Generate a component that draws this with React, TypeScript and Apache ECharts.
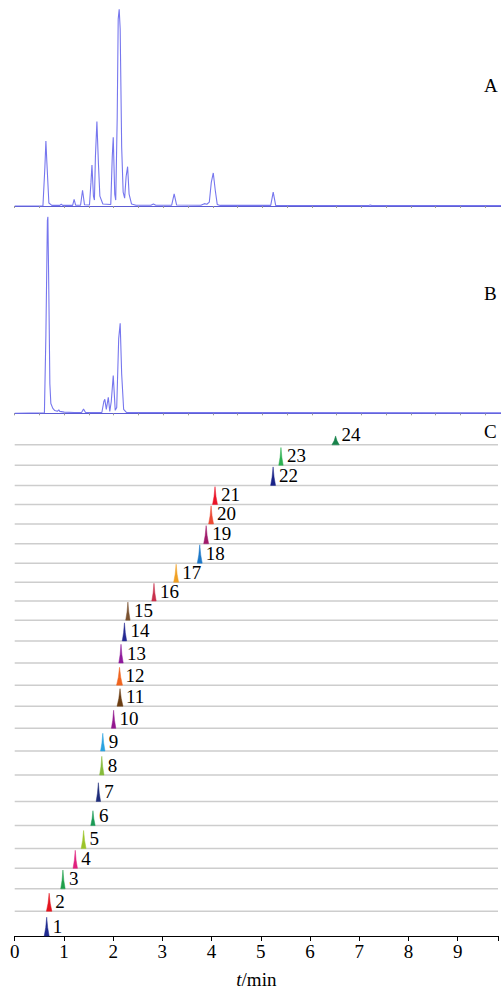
import React, { useEffect, useRef } from "react";
import * as echarts from "echarts";

// ---- Data ----
const X_MAX = 9.82;
const xTickLabels = ["0", "1", "2", "3", "4", "5", "6", "7", "8", "9"];
const panelLabels = ["A", "B", "C"];

// Trace A: [time (min), relative intensity (%)]
const traceA: number[][] = [
  [0, 0], [0.57, 0], [0.61, 20], [0.63, 33], [0.65, 22], [0.69, 1.5], [0.75, 0.3],
  [0.91, 0.3], [0.94, 0.9], [0.97, 0.3],
  [1.17, 0.3], [1.2, 3.4], [1.23, 0.4],
  [1.33, 0.4], [1.37, 8], [1.41, 0.6],
  [1.51, 0.5], [1.54, 12], [1.56, 20.8], [1.59, 5], [1.61, 3], [1.63, 25], [1.66, 43], [1.69, 22], [1.72, 5], [1.78, 1],
  [1.94, 0.8], [1.97, 25], [1.99, 35], [2.02, 6], [2.04, 3], [2.07, 45], [2.09, 95], [2.11, 100], [2.13, 90], [2.16, 30], [2.19, 7], [2.22, 4], [2.25, 15], [2.28, 20], [2.31, 6], [2.36, 1], [2.45, 0.4],
  [2.75, 0.4], [2.8, 1], [2.85, 0.4],
  [3.17, 0.4], [3.22, 6.2], [3.27, 0.5],
  [3.76, 0.4], [3.83, 1.2], [3.88, 0.9], [3.93, 2], [3.97, 12], [4.01, 16.8], [4.05, 8], [4.09, 0.8], [4.15, 0.3],
  [5.17, 0.3], [5.22, 7.1], [5.27, 0.3],
  [7.15, 0.2], [7.18, 0.5], [7.21, 0.2],
  [X_MAX, 0.2],
];

// Trace B: [time (min), relative intensity (%)]
const traceB: number[][] = [
  [0, 0], [0.6, 0.3], [0.63, 40], [0.66, 98], [0.67, 100], [0.69, 60], [0.71, 15], [0.73, 5], [0.77, 2.5],
  [0.81, 1.4], [0.86, 1], [0.89, 1.8], [0.91, 1], [1.0, 0.6], [1.2, 0.4],
  [1.35, 0.4], [1.39, 2.2], [1.43, 0.4],
  [1.76, 0.4], [1.8, 6], [1.82, 7.1], [1.85, 2], [1.89, 8.1], [1.92, 1], [1.95, 6], [1.99, 19.2], [2.03, 1.5],
  [2.06, 3], [2.1, 38], [2.13, 45.8], [2.16, 20], [2.2, 2], [2.26, 0.4],
  [X_MAX, 0.2],
];

// Panel C: individual compound peaks
const peakNo = [1, 2, 3, 4, 5, 6, 7, 8, 9, 10, 11, 12, 13, 14, 15, 16, 17, 18, 19, 20, 21, 22, 23, 24];
const peakTimeC = [0.65, 0.7, 0.98, 1.23, 1.4, 1.59, 1.7, 1.77, 1.79, 2.01, 2.14, 2.13, 2.16, 2.23, 2.3, 2.83, 3.28, 3.76, 3.89, 3.99, 4.07, 5.25, 5.41, 6.52];
const peakHeightC = [19, 18.3, 19, 18.3, 18.3, 15, 19, 19, 18, 18.3, 17.7, 18, 19, 18.3, 18.3, 18, 18.3, 18.7, 18.3, 18.3, 18, 18.7, 18, 9];
const peakHalfWidthC = [0.05, 0.055, 0.045, 0.045, 0.05, 0.045, 0.045, 0.045, 0.045, 0.045, 0.06, 0.06, 0.045, 0.045, 0.045, 0.045, 0.05, 0.05, 0.05, 0.05, 0.05, 0.05, 0.045, 0.075];
const laneBaseC = [0, 25, 47.7, 68.4, 88.4, 111.7, 136, 162.7, 187, 210, 232.4, 253.7, 276, 298.4, 319.4, 338.7, 357.7, 377, 396.7, 416.7, 436.4, 455.7, 476, 496.7];
const peakColorC = [
  "#1f2a8f", "#e4141e", "#1fa04a", "#e0217e", "#9cc42a", "#1a9a55", "#1e2d7a", "#86bb3a",
  "#2aa3e0", "#93188f", "#6b3d12", "#f0641e", "#8e1a9c", "#262a92", "#7a5230", "#c8304c",
  "#f0a024", "#1c78c8", "#a01a6a", "#ec4a34", "#ea1428", "#1a2388", "#2cb050", "#17824a",
];

const SERIF = '"Liberation Serif", "Times New Roman", serif';
const TRACE = "#7676ee";

export default function App() {
  const ref = useRef<HTMLDivElement>(null);
  useEffect(() => {
    if (!ref.current) return;
    const chart = echarts.init(ref.current, null, { renderer: "svg" });
    const leftPx = 14.7;
    const abAxis = (gridIndex: number) => ({
      type: "value", gridIndex, min: 0, max: X_MAX, interval: 0.5,
      axisLine: { show: true, lineStyle: { color: "#5c5cd2", width: 1 } },
      axisTick: { show: true, length: 2, lineStyle: { color: "#999" } },
      axisLabel: { show: false }, splitLine: { show: false },
    });
    const option: any = {
      animation: false,
      backgroundColor: "#fff",
      grid: [
        { left: leftPx, right: 0, top: 9.3, bottom: 994 - 206 },
        { left: leftPx, right: 0, top: 216.7, bottom: 994 - 413.3 },
        { left: leftPx, right: 0, top: 941.7 - 510, bottom: 994 - 941.7 },
      ],
      xAxis: [
        abAxis(0),
        abAxis(1),
        {
          type: "value", gridIndex: 2, min: 0, max: X_MAX, interval: 1,
          axisLine: { show: true, lineStyle: { color: "#000", width: 1 } },
          axisTick: { show: true, length: 5, lineStyle: { color: "#000" } },
          axisLabel: {
            show: true, fontFamily: SERIF, fontSize: 19, color: "#000", margin: 6,
            formatter: (v: number) => xTickLabels[Math.round(v)] ?? "",
          },
          splitLine: { show: false },
          name: "{i|t}/min", nameLocation: "middle", nameGap: 34,
          nameTextStyle: {
            fontFamily: SERIF, fontSize: 19, color: "#000",
            rich: { i: { fontFamily: SERIF, fontSize: 19, fontStyle: "italic", color: "#000" } },
          },
        },
      ],
      yAxis: [
        { type: "value", gridIndex: 0, min: 0, max: 100, show: false },
        { type: "value", gridIndex: 1, min: 0, max: 100, show: false },
        { type: "value", gridIndex: 2, min: 0, max: 510, show: false },
      ],
      graphic: [
        { type: "text", left: 484, top: 76, style: { text: panelLabels[0], font: `19px ${SERIF}`, fill: "#000" } },
        { type: "text", left: 484, top: 284, style: { text: panelLabels[1], font: `19px ${SERIF}`, fill: "#000" } },
        { type: "text", left: 484, top: 422, style: { text: panelLabels[2], font: `19px ${SERIF}`, fill: "#000" } },
      ],
      series: [
        {
          type: "line", xAxisIndex: 0, yAxisIndex: 0, data: traceA, symbol: "none",
          lineStyle: { color: TRACE, width: 1.1 }, silent: true,
        },
        {
          type: "line", xAxisIndex: 1, yAxisIndex: 1, data: traceB, symbol: "none",
          lineStyle: { color: TRACE, width: 1.1 }, silent: true,
        },
        {
          type: "custom", xAxisIndex: 2, yAxisIndex: 2, silent: true, z: 1,
          data: laneBaseC.slice(1).map((b) => [0, b]),
          renderItem: (params: any, api: any) => {
            const b = api.value(1);
            const p0 = api.coord([0, b]);
            const p1 = api.coord([X_MAX, b]);
            return {
              type: "line",
              shape: { x1: p0[0], y1: p0[1], x2: p1[0], y2: p1[1] },
              style: { stroke: "#cdcdcd", lineWidth: 1.5 },
            };
          },
        },
        {
          type: "custom", xAxisIndex: 2, yAxisIndex: 2, silent: true, z: 3,
          data: peakNo.map((n, i) => [peakTimeC[i], laneBaseC[i], peakHeightC[i], peakHalfWidthC[i], i]),
          renderItem: (params: any, api: any) => {
            const t = api.value(0), b = api.value(1), h = api.value(2), w = api.value(3);
            const i = api.value(4);
            const L = api.coord([t - w, b]);
            const A = api.coord([t, b + h]);
            const R = api.coord([t + w, b]);
            const mL = api.coord([t - w * 0.4, b + h * 0.45]);
            const mR = api.coord([t + w * 0.4, b + h * 0.45]);
            return {
              type: "group",
              children: [
                {
                  type: "polygon",
                  shape: { points: [L, mL, A, mR, R] },
                  style: { fill: peakColorC[i], stroke: peakColorC[i], lineWidth: 0.5 },
                },
                {
                  type: "text",
                  x: A[0] + 6,
                  y: L[1] - 10,
                  style: {
                    text: String(peakNo[i]), font: `19px ${SERIF}`, fill: "#000",
                    align: "left", verticalAlign: "middle",
                  },
                },
              ],
            };
          },
        },
      ],
    };
    chart.setOption(option);
    return () => chart.dispose();
  }, []);
  return (
    <div
      ref={ref}
      style={{ position: "fixed", left: 0, top: 0, width: 501, height: 994, background: "#fff" }}
    />
  );
}
